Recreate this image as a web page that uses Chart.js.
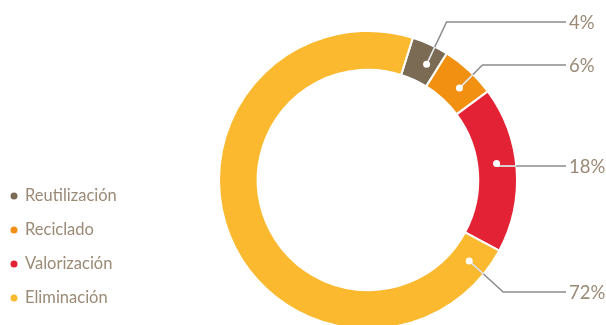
<!DOCTYPE html>
<html>
<head>
<meta charset="utf-8">
<script src="https://cdn.jsdelivr.net/npm/chart.js@4/dist/chart.umd.min.js"></script>
<style>
  html, body { margin: 0; padding: 0; background: #fff; overflow: hidden; }
  #c { display: block; }
</style>
</head>
<body>
<canvas id="c" width="606" height="340"></canvas>
<script>
// donnees
const categories = ["Reutilización", "Reciclado", "Valorización", "Eliminación"];
const valeurs = [4, 6, 18, 72];
const etiquettes = ["4%", "6%", "18%", "72%"];
const couleurs = ["#7b6b55", "#f29111", "#e42236", "#fbb92f"];

// mise en page des annotations
const labelY = [22, 65, 166, 292];
const ancre = [0.65, 0.6, 0.45, 0.04];   // position du point dans le segment
const coude = [20, 23, 0, 34];
const texteCouleur = "#9a8a76";

const annotations = {
  id: 'annotations',
  afterDraw(chart) {
    const ctx = chart.ctx;
    const arcs = chart.getDatasetMeta(0).data;
    ctx.save();

    arcs.forEach((arc, i) => {
      const a = arc.startAngle + (arc.endAngle - arc.startAngle) * ancre[i];
      const r = (arc.innerRadius + arc.outerRadius) / 2;
      const px = arc.x + Math.cos(a) * r;
      const py = arc.y + Math.sin(a) * r;
      const bx = px + coude[i];
      const by = labelY[i];

      const trace = () => {
        ctx.beginPath();
        ctx.moveTo(px, py);
        ctx.lineTo(bx, by);
        ctx.lineTo(566, by);
        ctx.stroke();
      };
      ctx.lineWidth = 1.5;
      ctx.strokeStyle = "#8c8c8c";
      trace();

      // partie dans l'anneau en clair
      ctx.save();
      ctx.beginPath();
      ctx.arc(arc.x, arc.y, arc.outerRadius, 0, Math.PI * 2);
      ctx.clip();
      ctx.strokeStyle = "#ececec";
      trace();
      ctx.restore();

      ctx.beginPath();
      ctx.arc(px, py, 3.5, 0, Math.PI * 2);
      ctx.fillStyle = "#ffffff";
      ctx.fill();

      ctx.fillStyle = texteCouleur;
      ctx.font = "18.5px Lato, 'Open Sans'";
      ctx.textAlign = "left";
      ctx.textBaseline = "middle";
      ctx.fillText(etiquettes[i], 569, by + 1);
    });

    // legende
    ctx.font = "16.5px Lato, 'Open Sans'";
    ctx.textBaseline = "middle";
    categories.forEach((cat, i) => {
      const y = 196 + i * 34;
      ctx.beginPath();
      ctx.arc(14, y, 3.5, 0, Math.PI * 2);
      ctx.fillStyle = couleurs[i];
      ctx.fill();
      ctx.fillStyle = texteCouleur;
      ctx.fillText(cat, 25, y);
    });

    ctx.restore();
  }
};

new Chart(document.getElementById('c'), {
  type: 'doughnut',
  data: {
    labels: categories,
    datasets: [{
      data: valeurs,
      backgroundColor: couleurs,
      borderColor: "#ffffff",
      borderWidth: 2
    }]
  },
  options: {
    responsive: false,
    animation: false,
    rotation: 17.5,
    cutout: '74%',
    layout: { padding: { left: 218, right: 88, top: 30, bottom: 10 } },
    plugins: {
      legend: { display: false },
      tooltip: { enabled: false }
    }
  },
  plugins: [annotations]
});
</script>
</body>
</html>
